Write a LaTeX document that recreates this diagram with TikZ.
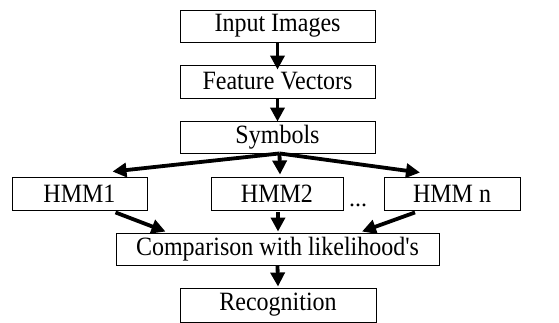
\documentclass[tikz,border=0pt]{standalone}
\usepackage{fontspec}
\usepackage{graphicx}
\setmainfont{Liberation Serif}[Ligatures=TeXOff]
\usetikzlibrary{arrows.meta,calc}
\newcommand{\tx}[1]{\scalebox{1}[1.1]{#1}}
\begin{document}
\begin{tikzpicture}[x=1pt,y=-1pt,
  box/.style={draw,line width=0.9pt,inner sep=0pt,font=\fontsize{24}{28}\selectfont},
  arr/.style={line width=3.8pt,-{Triangle[length=14pt,width=14pt]}}]
\useasboundingbox (0,0) rectangle (559,323);
\node[box,minimum width=195pt,minimum height=32pt] (inp) at (277.5,26) {\tx{Input Images}};
\node[box,minimum width=195pt,minimum height=33pt] (fea) at (277.5,81.5) {\tx{Feature Vectors}};
\node[box,minimum width=195pt,minimum height=32pt] (sym) at (277.5,137) {\tx{Symbols}};
\node[box,minimum width=135pt,minimum height=33pt] (h1) at (79.5,193.5) {\tx{HMM1}};
\node[box,minimum width=132pt,minimum height=33pt] (h2) at (277,193.5) {\tx{HMM2}};
\node[box,minimum width=136pt,minimum height=33pt] (hn) at (452,193.5) {\tx{HMM n}};
\node[font=\fontsize{24}{28}\selectfont,inner sep=0pt] (dots) at (358,205) {...};
\node[box,minimum width=323pt,minimum height=32pt] (cmp) at (277.5,249) {\tx{Comparison with likelihood's}};
\node[box,minimum width=196pt,minimum height=34pt] (rec) at (278,305) {\tx{Recognition}};
\draw[arr] (inp.south) -- ($(fea.north)+(0,5)$);
\draw[arr] (fea.south) -- ($(sym.north)+(0,1)$);
\draw[arr] ($(sym.south)+(2,0)$) -- ($(h1.north)+(33,-5)$);
\draw[arr] ($(sym.south)+(2,0)$) -- ($(h2.north)+(3,-2)$);
\draw[arr] ($(sym.south)+(2,0)$) -- ($(hn.north)+(-32,-4)$);
\draw[arr] ($(h1.south)+(36,2)$) -- ($(cmp.north)+(-112,-1)$);
\draw[arr] ($(h2.south)+(1,2)$) -- ($(cmp.north)+(0.5,-1)$);
\draw[arr] ($(hn.south)+(-37,2)$) -- ($(cmp.north)+(84.5,-1)$);
\draw[arr] (cmp.south) -- ($(rec.north)+(0,-1)$);
\end{tikzpicture}
\end{document}
